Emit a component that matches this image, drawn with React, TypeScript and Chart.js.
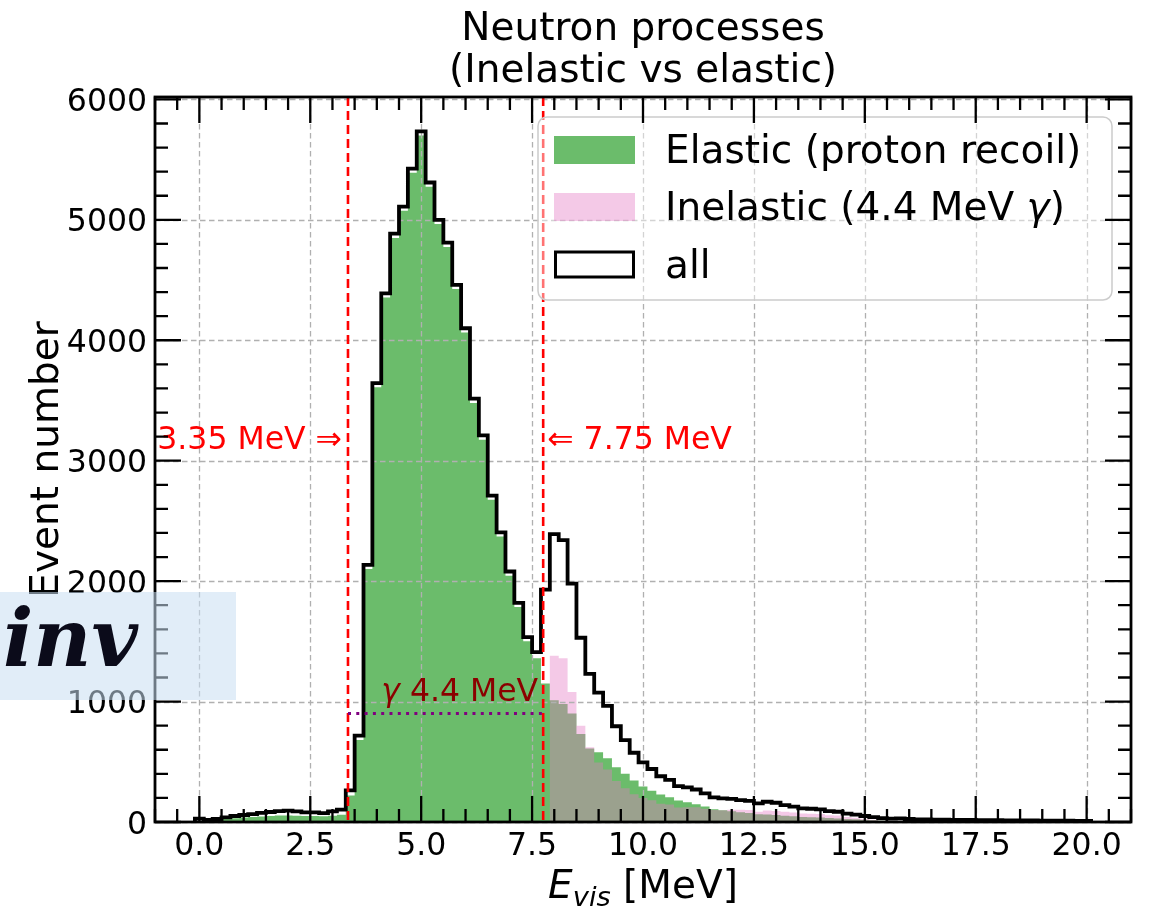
import React, { useEffect, useRef } from 'react';
import { Chart, registerables } from 'chart.js';

Chart.register(...registerables);

const W = 1150;
const H = 910;
const FONT = '"DejaVu Sans", sans-serif';

// Histogram binning (bins centred on 0.0, 0.2, ..., 20.0)
const BIN_START = -0.1;
const BIN_WIDTH = 0.2;

// all events (black step outline)
const allCounts = [
  28, 17, 25, 39, 50, 58, 66, 75, 83, 90,
  94, 88, 80, 80, 74, 88, 102, 262, 717, 2135,
  3645, 4390, 4885, 5110, 5425, 5735, 5310, 5000, 4810, 4460,
  4100, 3515, 3210, 2710, 2405, 2080, 1820, 1535, 1410, 1930,
  2390, 2340, 1980, 1530, 1230, 1075, 965, 795, 680, 575,
  495, 440, 380, 350, 298, 287, 270, 237, 204, 196,
  192, 182, 175, 154, 168, 160, 140, 127, 113, 110,
  105, 90, 85, 70, 62, 50, 40, 32, 28, 30,
  25, 22, 22, 20, 19, 18, 17, 17, 16, 15,
  15, 14, 14, 13, 13, 12, 12, 11, 11, 10,
  10,
];

// Elastic (proton recoil)
const elasticCounts = [
  0, 5, 15, 25, 32, 38, 42, 46, 50, 55,
  55, 52, 50, 50, 48, 52, 60, 220, 680, 2100,
  3610, 4355, 4850, 5075, 5390, 5700, 5275, 4965, 4775, 4425,
  4065, 3480, 3175, 2675, 2370, 2045, 1785, 1500, 1360, 1150,
  1010, 980, 900, 730, 610, 580, 530, 455, 400, 345,
  295, 260, 228, 205, 178, 165, 148, 128, 105, 98,
  90, 80, 75, 65, 62, 58, 52, 47, 42, 40,
  37, 33, 30, 25, 22, 18, 14, 10, 8, 7,
  6, 5, 4, 4, 3, 3, 2, 2, 2, 2,
  1, 1, 1, 1, 1, 1, 1, 1, 1, 0,
  0,
];

// Inelastic (4.4 MeV gamma)
const inelasticCounts = [
  0, 0, 0, 0, 0, 0, 0, 0, 0, 0,
  0, 0, 0, 0, 0, 0, 0, 0, 0, 0,
  0, 0, 0, 0, 0, 0, 0, 0, 0, 0,
  0, 0, 0, 0, 0, 0, 0, 0, 0, 0,
  1380, 1360, 1080, 800, 620, 495, 435, 340, 280, 230,
  200, 180, 152, 145, 120, 122, 122, 109, 99, 98,
  102, 102, 100, 85, 95, 92, 85, 78, 70, 68,
  66, 56, 53, 42, 36, 27, 19, 11, 7, 5,
  4, 3, 3, 2, 2, 2, 1, 1, 1, 1,
  1, 1, 1, 0, 0, 0, 0, 0, 0, 0,
  0,
];

const xTickValues = [0, 2.5, 5, 7.5, 10, 12.5, 15, 17.5, 20];
const yTickValues = [0, 1000, 2000, 3000, 4000, 5000, 6000];
const X_MIN = -1;
const X_MAX = 21;
const Y_MIN = 0;
const Y_MAX = 6020;
const X_MINOR_STEP = 0.5;
const Y_MINOR_STEP = 200;

const CUT_LOW = 3.35;
const CUT_HIGH = 7.75;
const GAMMA_LEVEL = 900;
const CUT_LABEL_LEVEL = 3100;
const GAMMA_LABEL_X = 4.1;
const GAMMA_LABEL_LEVEL = 1005;

const TITLE_LINES = ['Neutron processes', '(Inelastic vs elastic)'];
const Y_TITLE = 'Event number';

function toSteps(counts: number[]) {
  const pts = [{ x: BIN_START, y: 0 }];
  counts.forEach((c, i) => pts.push({ x: BIN_START + i * BIN_WIDTH, y: c }));
  pts.push({ x: BIN_START + counts.length * BIN_WIDTH, y: 0 });
  return pts;
}

type Run = { text: string; font: string; dy?: number };

function drawRuns(ctx: CanvasRenderingContext2D, runs: Run[], x: number, y: number, align: 'left' | 'center' | 'right') {
  const widths = runs.map((r) => {
    ctx.font = r.font;
    return ctx.measureText(r.text).width;
  });
  const total = widths.reduce((s, w) => s + w, 0);
  let cx = align === 'left' ? x : align === 'center' ? x - total / 2 : x - total;
  ctx.textAlign = 'left';
  runs.forEach((r, i) => {
    ctx.font = r.font;
    ctx.fillText(r.text, cx, y + (r.dy || 0));
    cx += widths[i];
  });
}

function mathRuns(text: string, size: number): Run[] {
  const parts = text.split('γ');
  const runs: Run[] = [];
  parts.forEach((p, i) => {
    if (p) runs.push({ text: p, font: `${size}px ${FONT}` });
    if (i < parts.length - 1) runs.push({ text: 'γ', font: `italic ${size}px ${FONT}` });
  });
  return runs;
}

function roundRect(ctx: CanvasRenderingContext2D, x: number, y: number, w: number, h: number, r: number) {
  ctx.beginPath();
  ctx.moveTo(x + r, y);
  ctx.lineTo(x + w - r, y);
  ctx.arcTo(x + w, y, x + w, y + r, r);
  ctx.lineTo(x + w, y + h - r);
  ctx.arcTo(x + w, y + h, x + w - r, y + h, r);
  ctx.lineTo(x + r, y + h);
  ctx.arcTo(x, y + h, x, y + h - r, r);
  ctx.lineTo(x, y + r);
  ctx.arcTo(x, y, x + r, y, r);
  ctx.closePath();
}

function drawGrid(chart: any) {
  const { ctx, chartArea: a } = chart;
  const xs = chart.scales.x;
  const ys = chart.scales.y;
  ctx.save();
  ctx.strokeStyle = '#b0b0b0';
  ctx.lineWidth = 1.3;
  ctx.setLineDash([5.5, 3.5]);
  xTickValues.forEach((v) => {
    const p = Math.round(xs.getPixelForValue(v)) + 0.5;
    ctx.beginPath();
    ctx.moveTo(p, a.top);
    ctx.lineTo(p, a.bottom);
    ctx.stroke();
  });
  yTickValues.forEach((v) => {
    const p = Math.round(ys.getPixelForValue(v)) + 0.5;
    ctx.beginPath();
    ctx.moveTo(a.left, p);
    ctx.lineTo(a.right, p);
    ctx.stroke();
  });
  ctx.restore();
}

function drawOverlay(chart: any) {
  const { ctx, chartArea: a } = chart;
  const xs = chart.scales.x;
  const ys = chart.scales.y;
  const px = (v: number) => xs.getPixelForValue(v);
  const py = (v: number) => ys.getPixelForValue(v);
  const small = 31.5;
  const big = 39;

  // ---- annotations (clipped to axes)
  ctx.save();
  ctx.beginPath();
  ctx.rect(a.left, a.top, a.right - a.left, a.bottom - a.top);
  ctx.clip();
  ctx.strokeStyle = '#ff0000';
  ctx.lineWidth = 2.6;
  ctx.setLineDash([9, 5]);
  [CUT_LOW, CUT_HIGH].forEach((c) => {
    ctx.beginPath();
    ctx.moveTo(px(c), a.top);
    ctx.lineTo(px(c), a.bottom);
    ctx.stroke();
  });
  ctx.strokeStyle = '#800080';
  ctx.lineWidth = 3;
  ctx.setLineDash([3, 5.3]);
  ctx.beginPath();
  ctx.moveTo(px(CUT_LOW), py(GAMMA_LEVEL));
  ctx.lineTo(px(CUT_HIGH), py(GAMMA_LEVEL));
  ctx.stroke();
  ctx.setLineDash([]);
  ctx.textBaseline = 'alphabetic';
  ctx.fillStyle = '#ff0000';
  drawRuns(ctx, [{ text: `${CUT_LOW.toFixed(2)} MeV ⇒`, font: `${small}px ${FONT}` }], px(CUT_LOW) - 6, py(CUT_LABEL_LEVEL), 'right');
  drawRuns(ctx, [{ text: `⇐ ${CUT_HIGH.toFixed(2)} MeV`, font: `${small}px ${FONT}` }], px(CUT_HIGH) + 4, py(CUT_LABEL_LEVEL), 'left');
  ctx.fillStyle = '#8b0000';
  drawRuns(ctx, mathRuns('γ 4.4 MeV', small), px(GAMMA_LABEL_X), py(GAMMA_LABEL_LEVEL), 'left');
  ctx.restore();

  // ---- legend
  ctx.save();
  const lx = 538, ly = 117, lw = 574, lh = 183;
  roundRect(ctx, lx, ly, lw, lh, 9);
  ctx.fillStyle = 'rgba(255,255,255,0.45)';
  ctx.fill();
  ctx.strokeStyle = '#cccccc';
  ctx.lineWidth = 1.5;
  ctx.stroke();
  const rowsY = [136, 193, 250.5];
  const datasets = chart.data.datasets;
  datasets.forEach((ds: any, i: number) => {
    const y0 = rowsY[i];
    if (ds.fill) {
      ctx.fillStyle = ds.backgroundColor;
      ctx.fillRect(554, y0, 81, 28);
    } else {
      ctx.fillStyle = '#ffffff';
      ctx.fillRect(554, y0, 81, 28);
      ctx.strokeStyle = ds.borderColor;
      ctx.lineWidth = 3;
      ctx.strokeRect(555.5, y0 + 1.5, 78, 25);
    }
    ctx.fillStyle = '#000';
    drawRuns(ctx, mathRuns(ds.label, 39), 665, y0 + 27, 'left');
  });
  ctx.restore();

  // ---- ticks (inward, all sides)
  ctx.save();
  ctx.strokeStyle = '#000';
  ctx.lineWidth = 2.3;
  const MAJ = 26;
  const MIN = 13;
  const nx = Math.round((X_MAX - X_MIN) / X_MINOR_STEP);
  for (let k = 0; k <= nx; k++) {
    const v = X_MIN + k * X_MINOR_STEP;
    const len = xTickValues.some((t) => Math.abs(t - v) < 1e-6) ? MAJ : MIN;
    const p = px(v);
    ctx.beginPath();
    ctx.moveTo(p, a.bottom);
    ctx.lineTo(p, a.bottom - len);
    ctx.moveTo(p, a.top);
    ctx.lineTo(p, a.top + len);
    ctx.stroke();
  }
  const ny = Math.floor((Y_MAX - Y_MIN) / Y_MINOR_STEP);
  for (let k = 0; k <= ny; k++) {
    const v = Y_MIN + k * Y_MINOR_STEP;
    const len = yTickValues.some((t) => Math.abs(t - v) < 1e-6) ? MAJ : MIN;
    const p = py(v);
    ctx.beginPath();
    ctx.moveTo(a.left, p);
    ctx.lineTo(a.left + len, p);
    ctx.moveTo(a.right, p);
    ctx.lineTo(a.right - len, p);
    ctx.stroke();
  }
  ctx.lineWidth = 2.8;
  ctx.strokeRect(a.left, a.top, a.right - a.left, a.bottom - a.top);
  ctx.restore();

  // ---- tick labels
  ctx.save();
  ctx.fillStyle = '#000';
  ctx.textBaseline = 'alphabetic';
  ctx.font = `${small}px ${FONT}`;
  ctx.textAlign = 'center';
  xTickValues.forEach((v) => ctx.fillText(v.toFixed(1), px(v), a.bottom + 33));
  ctx.textAlign = 'right';
  yTickValues.forEach((v) => ctx.fillText(String(v), a.left - 8, py(v) + 11.5));

  // ---- title
  const cxm = (a.left + a.right) / 2;
  ctx.font = `${big}px ${FONT}`;
  ctx.textAlign = 'center';
  ctx.fillText(TITLE_LINES[0], cxm, 40);
  ctx.fillText(TITLE_LINES[1], cxm, 82);

  // ---- y axis title
  ctx.save();
  ctx.translate(58, (a.top + a.bottom) / 2);
  ctx.rotate(-Math.PI / 2);
  ctx.font = `${big}px ${FONT}`;
  ctx.textAlign = 'center';
  ctx.fillText(Y_TITLE, 0, 0);
  ctx.restore();

  // ---- x axis title: E_vis [MeV]
  drawRuns(
    ctx,
    [
      { text: 'E', font: `italic ${big}px ${FONT}` },
      { text: 'vis', font: `italic ${big * 0.7}px ${FONT}`, dy: big * 0.2 },
      { text: ' [MeV]', font: `${big}px ${FONT}` },
    ],
    cxm,
    898,
    'center'
  );
  ctx.restore();
}

const decorPlugin = {
  id: 'decor',
  afterDatasetDraw(chart: any, args: any) {
    if (args.index === 1) drawGrid(chart);
  },
  afterDatasetsDraw(chart: any) {
    drawOverlay(chart);
  },
};

export default function App() {
  const ref = useRef<HTMLCanvasElement>(null);
  useEffect(() => {
    const chart = new Chart(ref.current as HTMLCanvasElement, {
      type: 'line',
      data: {
        datasets: [
          {
            label: 'Elastic (proton recoil)',
            data: toSteps(elasticCounts),
            stepped: true,
            fill: 'origin',
            backgroundColor: 'rgba(44,160,44,0.7)',
            borderColor: 'transparent',
            borderWidth: 0,
            pointRadius: 0,
            order: 2,
          },
          {
            label: 'Inelastic (4.4 MeV γ)',
            data: toSteps(inelasticCounts),
            stepped: true,
            fill: 'origin',
            backgroundColor: 'rgba(227,119,194,0.4)',
            borderColor: 'transparent',
            borderWidth: 0,
            pointRadius: 0,
            order: 1,
          },
          {
            label: 'all',
            data: toSteps(allCounts),
            stepped: true,
            fill: false,
            borderColor: '#000000',
            backgroundColor: 'transparent',
            borderWidth: 3.8,
            borderJoinStyle: 'miter',
            pointRadius: 0,
            order: 0,
          },
        ],
      } as any,
      options: {
        responsive: false,
        animation: false,
        events: [],
        layout: { padding: { left: 155, top: 97, right: 19, bottom: 88 } },
        scales: {
          x: { type: 'linear', min: X_MIN, max: X_MAX, display: false },
          y: { type: 'linear', min: Y_MIN, max: Y_MAX, display: false },
        },
        plugins: {
          legend: { display: false },
          tooltip: { enabled: false },
          title: { display: false },
        },
      } as any,
      plugins: [decorPlugin],
    });
    return () => chart.destroy();
  }, []);

  return (
    <div style={{ position: 'absolute', left: 0, top: 0, width: W, height: H, background: '#ffffff', overflow: 'hidden' }}>
      <canvas ref={ref} width={W} height={H} style={{ display: 'block', width: W, height: H }} />
      <div
        style={{
          position: 'absolute',
          left: 0,
          top: 592,
          width: 236,
          height: 108,
          background: 'rgba(200,222,242,0.55)',
          overflow: 'hidden',
        }}
      >
        <span
          style={{
            position: 'absolute',
            right: 98,
            top: 6,
            font: 'italic bold 80px "DejaVu Serif", serif',
            lineHeight: 1,
            color: '#0b0b1a',
            whiteSpace: 'nowrap',
          }}
        >
          inv
        </span>
      </div>
    </div>
  );
}
